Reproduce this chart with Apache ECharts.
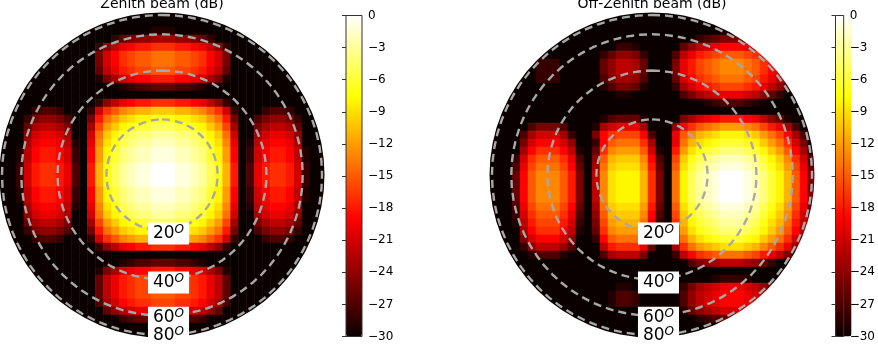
<!DOCTYPE html>
<html>
<head>
<meta charset="utf-8">
<style>
html,body{margin:0;padding:0;background:#fff}
#main{width:878px;height:346px}
</style>
<script src="https://cdn.jsdelivr.net/npm/echarts@6/dist/echarts.min.js"></script>
</head>
<body>
<div id="main"></div>
<script>
// attenuation below peak in dB, top row first
var zenithBeam = [
[30,30,30,30,30,30,30,30,30,30,30,30,30,30,30,30,30,30,30,30,30,30,30,30,30,30,30,30,30,30,30,30,30,30,30,30,30,30,30,30,30],
[30,30,30,30,30,30,30,30,30,30,30,30,30,30,30,30,30,30,30,30,30,30,30,30,30,30,30,30,30,30,30,30,30,30,30,30,30,30,30,30,30],
[30,30,30,30,30,30,30,30,30,30,30,30,30,30,30,30,30,30,30,29,29,29,30,30,30,30,30,30,30,30,30,30,30,30,30,30,30,30,30,30,30],
[30,30,30,30,30,30,30,30,30,30,30,30,30,30,28,26,25,24,24,23,23,23,24,24,25,26,28,30,30,30,30,30,30,30,30,30,30,30,30,30,30],
[30,30,30,30,30,30,30,30,30,30,30,30,28,24,22,20,19,18,18,17,17,17,18,18,19,20,22,24,28,30,30,30,30,30,30,30,30,30,30,30,30],
[30,30,30,30,30,30,30,30,30,30,30,30,25,21,19,17,16,15,15,14,14,14,15,15,16,17,19,21,25,30,30,30,30,30,30,30,30,30,30,30,30],
[30,30,30,30,30,30,30,30,30,30,30,30,25,21,19,17,16,15,15,14,14,14,15,15,16,17,19,21,25,30,30,30,30,30,30,30,30,30,30,30,30],
[30,30,30,30,30,30,30,30,30,30,30,30,26,22,20,18,17,16,16,15,15,15,16,16,17,18,20,22,26,30,30,30,30,30,30,30,30,30,30,30,30],
[30,30,30,30,30,30,30,30,30,30,30,30,29,25,23,21,20,19,19,18,18,18,19,19,20,21,23,25,29,30,30,30,30,30,30,30,30,30,30,30,30],
[30,30,30,30,30,30,30,30,30,30,30,30,30,30,30,29,28,27,27,26,26,26,27,27,28,29,30,30,30,30,30,30,30,30,30,30,30,30,30,30,30],
[30,30,30,30,30,30,30,30,30,30,30,30,30,30,30,30,30,30,30,30,30,30,30,30,30,30,30,30,30,30,30,30,30,30,30,30,30,30,30,30,30],
[30,30,30,30,30,30,30,30,30,30,30,30,28,24,22,20,19,18,18,17,17,17,18,18,19,20,22,24,28,30,30,30,30,30,30,30,30,30,30,30,30],
[30,30,30,30,28,27,27,28,30,30,30,28,21,17,15,13,12,11,11,10,10,10,11,11,12,13,15,17,21,28,30,30,30,28,27,27,28,30,30,30,30],
[30,30,30,28,25,24,24,25,27,30,30,25,18,14,12,10,9,8,8,7,7,7,8,8,9,10,12,14,18,25,30,30,27,25,24,24,25,28,30,30,30],
[30,30,30,26,23,22,22,23,25,30,30,23,16,12,10,8,7,6,6,5,5,5,6,6,7,8,10,12,16,23,30,30,25,23,22,22,23,26,30,30,30],
[30,30,30,24,21,20,20,21,23,30,30,21,14,10,8,6,5,4,4,3,3,3,4,4,5,6,8,10,14,21,30,30,23,21,20,20,21,24,30,30,30],
[30,30,30,23,20,19,19,20,22,29,30,20,13,9,7,5,4,3,3,2,2,2,3,3,4,5,7,9,13,20,30,29,22,20,19,19,20,23,30,30,30],
[30,30,29,22,19,18,18,19,21,28,30,19,12,8,6,4,3,2,2,1,1,1,2,2,3,4,6,8,12,19,30,28,21,19,18,18,19,22,29,30,30],
[30,30,29,22,19,18,18,19,21,28,30,19,12,8,6,4,3,2,2,1,1,1,2,2,3,4,6,8,12,19,30,28,21,19,18,18,19,22,29,30,30],
[30,30,28,21,18,17,17,18,20,27,30,18,11,7,5,3,2,1,1,0,0,0,1,1,2,3,5,7,11,18,30,27,20,18,17,17,18,21,28,30,30],
[30,30,28,21,18,17,17,18,20,27,30,18,11,7,5,3,2,1,1,0,0,0,1,1,2,3,5,7,11,18,30,27,20,18,17,17,18,21,28,30,30],
[30,30,28,21,18,17,17,18,20,27,30,18,11,7,5,3,2,1,1,0,0,0,1,1,2,3,5,7,11,18,30,27,20,18,17,17,18,21,28,30,30],
[30,30,29,22,19,18,18,19,21,28,30,19,12,8,6,4,3,2,2,1,1,1,2,2,3,4,6,8,12,19,30,28,21,19,18,18,19,22,29,30,30],
[30,30,29,22,19,18,18,19,21,28,30,19,12,8,6,4,3,2,2,1,1,1,2,2,3,4,6,8,12,19,30,28,21,19,18,18,19,22,29,30,30],
[30,30,30,23,20,19,19,20,22,29,30,20,13,9,7,5,4,3,3,2,2,2,3,3,4,5,7,9,13,20,30,29,22,20,19,19,20,23,30,30,30],
[30,30,30,24,21,20,20,21,23,30,30,21,14,10,8,6,5,4,4,3,3,3,4,4,5,6,8,10,14,21,30,30,23,21,20,20,21,24,30,30,30],
[30,30,30,26,23,22,22,23,25,30,30,23,16,12,10,8,7,6,6,5,5,5,6,6,7,8,10,12,16,23,30,30,25,23,22,22,23,26,30,30,30],
[30,30,30,28,25,24,24,25,27,30,30,25,18,14,12,10,9,8,8,7,7,7,8,8,9,10,12,14,18,25,30,30,27,25,24,24,25,28,30,30,30],
[30,30,30,30,28,27,27,28,30,30,30,28,21,17,15,13,12,11,11,10,10,10,11,11,12,13,15,17,21,28,30,30,30,28,27,27,28,30,30,30,30],
[30,30,30,30,30,30,30,30,30,30,30,30,28,24,22,20,19,18,18,17,17,17,18,18,19,20,22,24,28,30,30,30,30,30,30,30,30,30,30,30,30],
[30,30,30,30,30,30,30,30,30,30,30,30,30,30,30,30,30,30,30,30,30,30,30,30,30,30,30,30,30,30,30,30,30,30,30,30,30,30,30,30,30],
[30,30,30,30,30,30,30,30,30,30,30,30,30,30,30,29,28,27,27,26,26,26,27,27,28,29,30,30,30,30,30,30,30,30,30,30,30,30,30,30,30],
[30,30,30,30,30,30,30,30,30,30,30,30,29,25,23,21,20,19,19,18,18,18,19,19,20,21,23,25,29,30,30,30,30,30,30,30,30,30,30,30,30],
[30,30,30,30,30,30,30,30,30,30,30,30,26,22,20,18,17,16,16,15,15,15,16,16,17,18,20,22,26,30,30,30,30,30,30,30,30,30,30,30,30],
[30,30,30,30,30,30,30,30,30,30,30,30,26,22,20,18,17,16,16,15,15,15,16,16,17,18,20,22,26,30,30,30,30,30,30,30,30,30,30,30,30],
[30,30,30,30,30,30,30,30,30,30,30,30,26,22,20,18,17,16,16,15,15,15,16,16,17,18,20,22,26,30,30,30,30,30,30,30,30,30,30,30,30],
[30,30,30,30,30,30,30,30,30,30,30,30,27,23,21,19,18,17,17,16,16,16,17,17,18,19,21,23,27,30,30,30,30,30,30,30,30,30,30,30,30],
[30,30,30,30,30,30,30,30,30,30,30,30,30,26,24,22,21,20,20,19,19,19,20,20,21,22,24,26,30,30,30,30,30,30,30,30,30,30,30,30,30],
[30,30,30,30,30,30,30,30,30,30,30,30,30,30,30,28,27,26,26,25,25,25,26,26,27,28,30,30,30,30,30,30,30,30,30,30,30,30,30,30,30],
[30,30,30,30,30,30,30,30,30,30,30,30,30,30,30,30,30,30,30,30,30,30,30,30,30,30,30,30,30,30,30,30,30,30,30,30,30,30,30,30,30],
[30,30,30,30,30,30,30,30,30,30,30,30,30,30,30,30,30,30,30,30,30,30,30,30,30,30,30,30,30,30,30,30,30,30,30,30,30,30,30,30,30]
];
var offZenithBeam = [
[30,30,30,30,30,30,30,30,30,30,30,30,30,30,30,30,30,30,30,30,30,30,30,30,30,30,30,30,30,30,30,30,30,30,30,30,30,30,30,30,30],
[30,30,30,30,30,30,30,30,30,30,30,30,30,30,30,30,30,30,30,30,30,30,30,30,30,30,30,30,30,30,30,30,30,30,30,30,30,30,30,30,30],
[30,30,30,30,30,30,30,30,30,30,30,30,30,30,30,30,30,30,30,30,30,30,30,30,30,30,30,30,30,30,30,30,30,30,30,30,30,30,30,30,30],
[30,30,30,30,30,30,30,30,30,30,30,30,30,30,30,30,30,30,30,30,30,30,30,30,30,30,28,27,26,25,25,25,26,27,29,30,30,30,30,30,30],
[30,30,30,30,30,30,30,30,30,30,30,30,30,30,30,30,28,28,29,30,30,30,30,30,26,24,22,21,20,19,19,19,20,21,23,25,27,30,30,30,30],
[30,30,30,30,30,30,30,30,30,30,30,30,30,30,28,26,24,24,25,28,30,30,30,27,22,20,18,17,16,15,15,15,16,17,19,21,23,26,30,30,30],
[30,30,30,30,30,30,28,28,28,30,30,30,30,30,26,24,22,22,23,26,30,30,30,25,20,18,16,15,14,13,13,13,14,15,17,19,21,24,28,30,30],
[30,30,30,30,30,30,28,28,28,30,30,30,30,30,26,24,22,22,23,26,30,30,30,25,20,18,16,15,14,13,13,13,14,15,17,19,21,24,28,30,30],
[30,30,30,30,30,30,28,28,28,30,30,30,30,30,27,25,23,23,24,27,30,30,30,26,21,19,17,16,15,14,14,14,15,16,18,20,22,25,29,30,30],
[30,30,30,30,30,30,30,30,30,30,30,30,30,30,29,27,25,25,26,29,30,30,30,28,23,21,19,18,17,16,16,16,17,18,20,22,24,27,30,30,30],
[30,30,30,30,30,30,30,30,30,30,30,30,30,30,30,30,29,29,30,30,30,30,30,30,27,25,23,22,21,20,20,20,21,22,24,26,28,30,30,30,30],
[30,30,30,30,30,30,30,30,30,30,30,30,30,30,30,30,30,30,30,30,30,30,30,30,30,30,30,29,28,27,27,27,28,29,30,30,30,30,30,30,30],
[30,30,30,30,30,30,30,30,30,30,30,30,30,30,30,30,30,30,30,30,30,30,30,30,30,30,30,30,30,30,30,30,30,30,30,30,30,30,30,30,30],
[30,30,30,30,30,30,30,30,30,30,30,30,30,30,29,27,26,26,26,29,30,30,30,30,25,23,21,20,19,18,18,18,19,20,22,24,26,29,30,30,30],
[30,30,30,30,30,27,25,25,25,27,30,30,30,29,23,21,20,20,20,23,30,30,30,24,19,17,15,14,13,12,12,12,13,14,16,18,20,23,27,30,30],
[30,30,30,30,27,23,21,21,21,23,28,30,30,25,19,17,16,16,16,19,27,30,30,20,15,13,11,10,9,8,8,8,9,10,12,14,16,19,23,27,30],
[30,30,30,30,25,21,19,19,19,21,24,30,30,28,19,15,14,14,14,17,23,30,30,20,14,11,9,8,7,6,6,6,7,8,10,12,14,17,21,25,30],
[30,30,30,30,23,19,17,17,17,19,22,29,30,26,17,13,12,12,12,15,21,29,30,18,12,9,7,6,5,4,4,4,5,6,8,10,12,15,19,23,29],
[30,30,30,28,21,17,15,15,15,17,20,27,30,24,15,11,10,10,10,13,19,27,30,16,10,7,5,4,3,2,2,2,3,4,6,8,10,13,17,21,27],
[30,30,30,27,20,16,14,14,14,16,19,26,30,23,14,10,9,9,9,12,18,26,30,15,9,6,4,3,2,1,1,1,2,3,5,7,9,12,16,20,26],
[30,30,30,26,19,15,13,13,13,15,18,25,30,22,13,9,8,8,8,11,17,25,30,14,8,5,3,2,1,0,0,0,1,2,4,6,8,11,15,19,25],
[30,30,30,26,19,15,13,13,13,15,18,25,30,22,13,9,8,8,8,11,17,25,30,14,8,5,3,2,1,0,0,0,1,2,4,6,8,11,15,19,25],
[30,30,30,26,19,15,13,13,13,15,18,25,30,22,13,9,8,8,8,11,17,25,30,14,8,5,3,2,1,0,0,0,1,2,4,6,8,11,15,19,25],
[30,30,30,26,19,15,13,13,13,15,18,25,30,22,13,9,8,8,8,11,17,25,30,14,8,5,3,2,1,0,0,0,1,2,4,6,8,11,15,19,25],
[30,30,30,27,20,16,14,14,14,16,19,26,30,23,14,10,9,9,9,12,18,26,30,15,9,6,4,3,2,1,1,1,2,3,5,7,9,12,16,20,26],
[30,30,30,28,21,17,15,15,15,17,20,27,30,24,15,11,10,10,10,13,19,27,30,16,10,7,5,4,3,2,2,2,3,4,6,8,10,13,17,21,27],
[30,30,30,29,22,18,16,16,16,18,21,28,30,25,16,12,11,11,11,14,20,28,30,17,11,8,6,5,4,3,3,3,4,5,7,9,11,14,18,22,28],
[30,30,30,30,23,19,17,17,17,19,22,29,30,26,17,13,12,12,12,15,21,29,30,18,12,9,7,6,5,4,4,4,5,6,8,10,12,15,19,23,29],
[30,30,30,30,25,21,19,19,19,21,24,30,30,28,19,15,14,14,14,17,23,30,30,20,14,11,9,8,7,6,6,6,7,8,10,12,14,17,21,25,30],
[30,30,30,30,28,24,22,22,22,24,27,30,30,30,22,18,17,17,17,20,26,30,30,23,17,14,12,11,10,9,9,9,10,11,13,15,17,20,24,28,30],
[30,30,30,30,30,29,27,27,27,29,30,30,30,30,27,23,22,22,22,25,30,30,30,28,22,19,17,16,15,14,14,14,15,16,18,20,22,25,29,30,30],
[30,30,30,30,30,30,30,30,30,30,30,30,30,30,30,30,30,30,30,30,30,30,30,30,30,27,25,24,23,22,22,22,23,24,26,28,30,30,30,30,30],
[30,30,30,30,30,30,30,30,30,30,30,30,30,30,30,30,30,30,30,30,30,30,30,30,30,30,30,30,30,30,30,30,30,30,30,30,30,30,30,30,30],
[30,30,30,30,30,30,30,30,30,30,30,30,30,30,30,30,30,30,30,30,30,30,30,30,30,30,30,30,29,28,28,28,29,30,30,30,30,30,30,30,30],
[30,30,30,30,30,30,30,30,30,30,30,30,30,30,30,30,29,29,30,30,30,30,30,30,28,25,23,22,21,20,20,20,21,22,24,26,28,30,30,30,30],
[30,30,30,30,30,30,30,30,30,30,30,30,30,30,30,29,27,27,28,30,30,30,30,30,27,24,22,21,20,19,19,19,20,21,23,25,27,30,30,30,30],
[30,30,30,30,30,30,30,30,30,30,30,30,30,30,30,29,27,27,28,30,30,30,30,30,27,24,22,21,20,19,19,19,20,21,23,25,27,30,30,30,30],
[30,30,30,30,30,30,30,30,30,30,30,30,30,30,30,30,30,30,30,30,30,30,30,30,29,26,24,23,22,21,21,21,22,23,25,27,29,30,30,30,30],
[30,30,30,30,30,30,30,30,30,30,30,30,30,30,30,30,30,30,30,30,30,30,30,30,30,30,29,28,27,26,26,26,27,28,30,30,30,30,30,30,30],
[30,30,30,30,30,30,30,30,30,30,30,30,30,30,30,30,30,30,30,30,30,30,30,30,30,30,30,30,30,30,30,30,30,30,30,30,30,30,30,30,30],
[30,30,30,30,30,30,30,30,30,30,30,30,30,30,30,30,30,30,30,30,30,30,30,30,30,30,30,30,30,30,30,30,30,30,30,30,30,30,30,30,30]
];
var titles = ['Zenith beam (dB)', 'Off-Zenith beam (dB)'];
var zenithRings = [20, 40, 60, 80];
var ringLabelShift = [3, 3, 2, 1];

var panelCenter = [[162, 175], [652, 175]];
var radius = 162.5;
var cellSize = 8;
var barLeft = [346, 835.5];
var hotColors = [];
var ringAngles = [];
var cells = [];
var i;

// matplotlib "hot" colour map
function hot(t) {
    var r = Math.min(1, 0.0416 + t * 0.9584 / 0.365);
    var g = Math.max(0, Math.min(1, (t - 0.365) / 0.381));
    var b = Math.max(0, (t - 0.746) / 0.254);
    return 'rgb(' + Math.round(r * 255) + ',' + Math.round(g * 255) + ',' + Math.round(b * 255) + ')';
}
for (i = 0; i <= 60; i++) hotColors.push(hot(i / 60));
for (i = 0; i <= 72; i++) ringAngles.push(i * 5);
for (i = 0; i < 41; i++) cells.push(i);

// drop cells that lie fully outside the disc
function heatData(rows) {
    var out = [];
    rows.forEach(function (row, r) {
        row.forEach(function (v, c) {
            var d = Math.sqrt((c - 20) * (c - 20) + (r - 20) * (r - 20));
            if (d < 21.5) out.push([c, 40 - r, -v]);
        });
    });
    return out;
}

var option = {
    animation: false,
    backgroundColor: '#fff',
    textStyle: {fontFamily: 'DejaVu Sans'},
    title: [0, 1].map(function (p) {
        return {
            text: titles[p],
            left: panelCenter[p][0],
            top: -3,
            textAlign: 'center',
            padding: 0,
            textStyle: {fontSize: 14, fontWeight: 'normal', color: '#000', fontFamily: 'DejaVu Sans'}
        };
    }),
    grid: [],
    xAxis: [],
    yAxis: [],
    polar: [],
    angleAxis: [],
    radiusAxis: [],
    visualMap: [],
    graphic: [],
    series: []
};

[0, 1].forEach(function (p) {
    var cx = panelCenter[p][0], cy = panelCenter[p][1];
    var half = cellSize * 41 / 2;
    option.grid.push({left: cx - half, top: cy - half, width: half * 2, height: half * 2});
    option.xAxis.push({type: 'category', gridIndex: p, data: cells, show: false});
    option.yAxis.push({type: 'category', gridIndex: p, data: cells, show: false});
    option.polar.push({center: [cx, cy], radius: radius});
    option.angleAxis.push({polarIndex: p, type: 'value', min: 0, max: 360, show: false});
    option.radiusAxis.push({polarIndex: p, type: 'value', min: 0, max: 1, show: false});
    option.visualMap.push({
        type: 'continuous', seriesIndex: p, min: -30, max: 0,
        left: barLeft[p], top: 15.5, itemWidth: 16, itemHeight: 321, padding: 0,
        calculable: false, hoverLink: false, inRange: {color: hotColors}
    });
    // white mask gives the disc a round edge
    option.graphic.push({
        type: 'ring', z: 2, silent: true,
        shape: {cx: cx, cy: cy, r: radius + 17, r0: radius},
        style: {fill: '#fff'}
    });
    option.series.push({
        type: 'heatmap', xAxisIndex: p, yAxisIndex: p, z: 1, silent: true, progressive: 0,
        data: heatData(p === 0 ? zenithBeam : offZenithBeam)
    });
});

// colour bar frame and ticks
[0, 1].forEach(function (p) {
    option.grid.push({
        left: barLeft[p], top: 15.5, width: 16, height: 321, z: 5,
        show: true, backgroundColor: 'transparent', borderColor: '#333', borderWidth: 1
    });
    option.xAxis.push({type: 'value', gridIndex: p + 2, show: false, min: 0, max: 1});
    option.yAxis.push({
        type: 'value', gridIndex: p + 2, min: -30, max: 0, interval: 3, position: 'right', z: 6,
        splitLine: {show: false},
        axisLine: {show: false},
        axisTick: {show: true, inside: true, length: 4, lineStyle: {color: '#333'}},
        axisLabel: {
            show: true, margin: 6, fontSize: 12, color: '#000', fontFamily: 'DejaVu Sans',
            formatter: function (v) { return String(v).replace('-', '\u2212'); }
        }
    });
});

// dashed zenith rings and their labels
[0, 1].forEach(function (p) {
    zenithRings.forEach(function (deg, k) {
        var r = Math.sin(deg * Math.PI / 180);
        option.series.push({
            type: 'line', coordinateSystem: 'polar', polarIndex: p, z: 3, silent: true,
            symbol: 'none', clip: false,
            lineStyle: {color: '#a8a8a8', width: 2.4, type: [8, 5]},
            data: ringAngles.map(function (a) { return [r, a]; })
        });
        option.series.push({
            type: 'scatter', coordinateSystem: 'polar', polarIndex: p, z: 4 + k * 0.1, silent: true,
            symbolSize: 0, clip: false,
            itemStyle: {opacity: 1},
            label: {
                show: true, position: 'inside', offset: [6.5, ringLabelShift[k]], opacity: 1,
                backgroundColor: '#fff', padding: [1, 5, 1, 5], color: '#000',
                formatter: '{d|' + deg + '}{o|O}',
                rich: {
                    d: {fontSize: 17, fontFamily: 'DejaVu Sans', color: '#000'},
                    o: {fontSize: 12, fontStyle: 'italic', fontFamily: 'DejaVu Sans', color: '#000', padding: [0, 0, 8, 0]}
                }
            },
            data: [[r, 180]]
        });
    });
});

var chart = echarts.init(document.getElementById('main'));
chart.setOption(option);
</script>
</body>
</html>
